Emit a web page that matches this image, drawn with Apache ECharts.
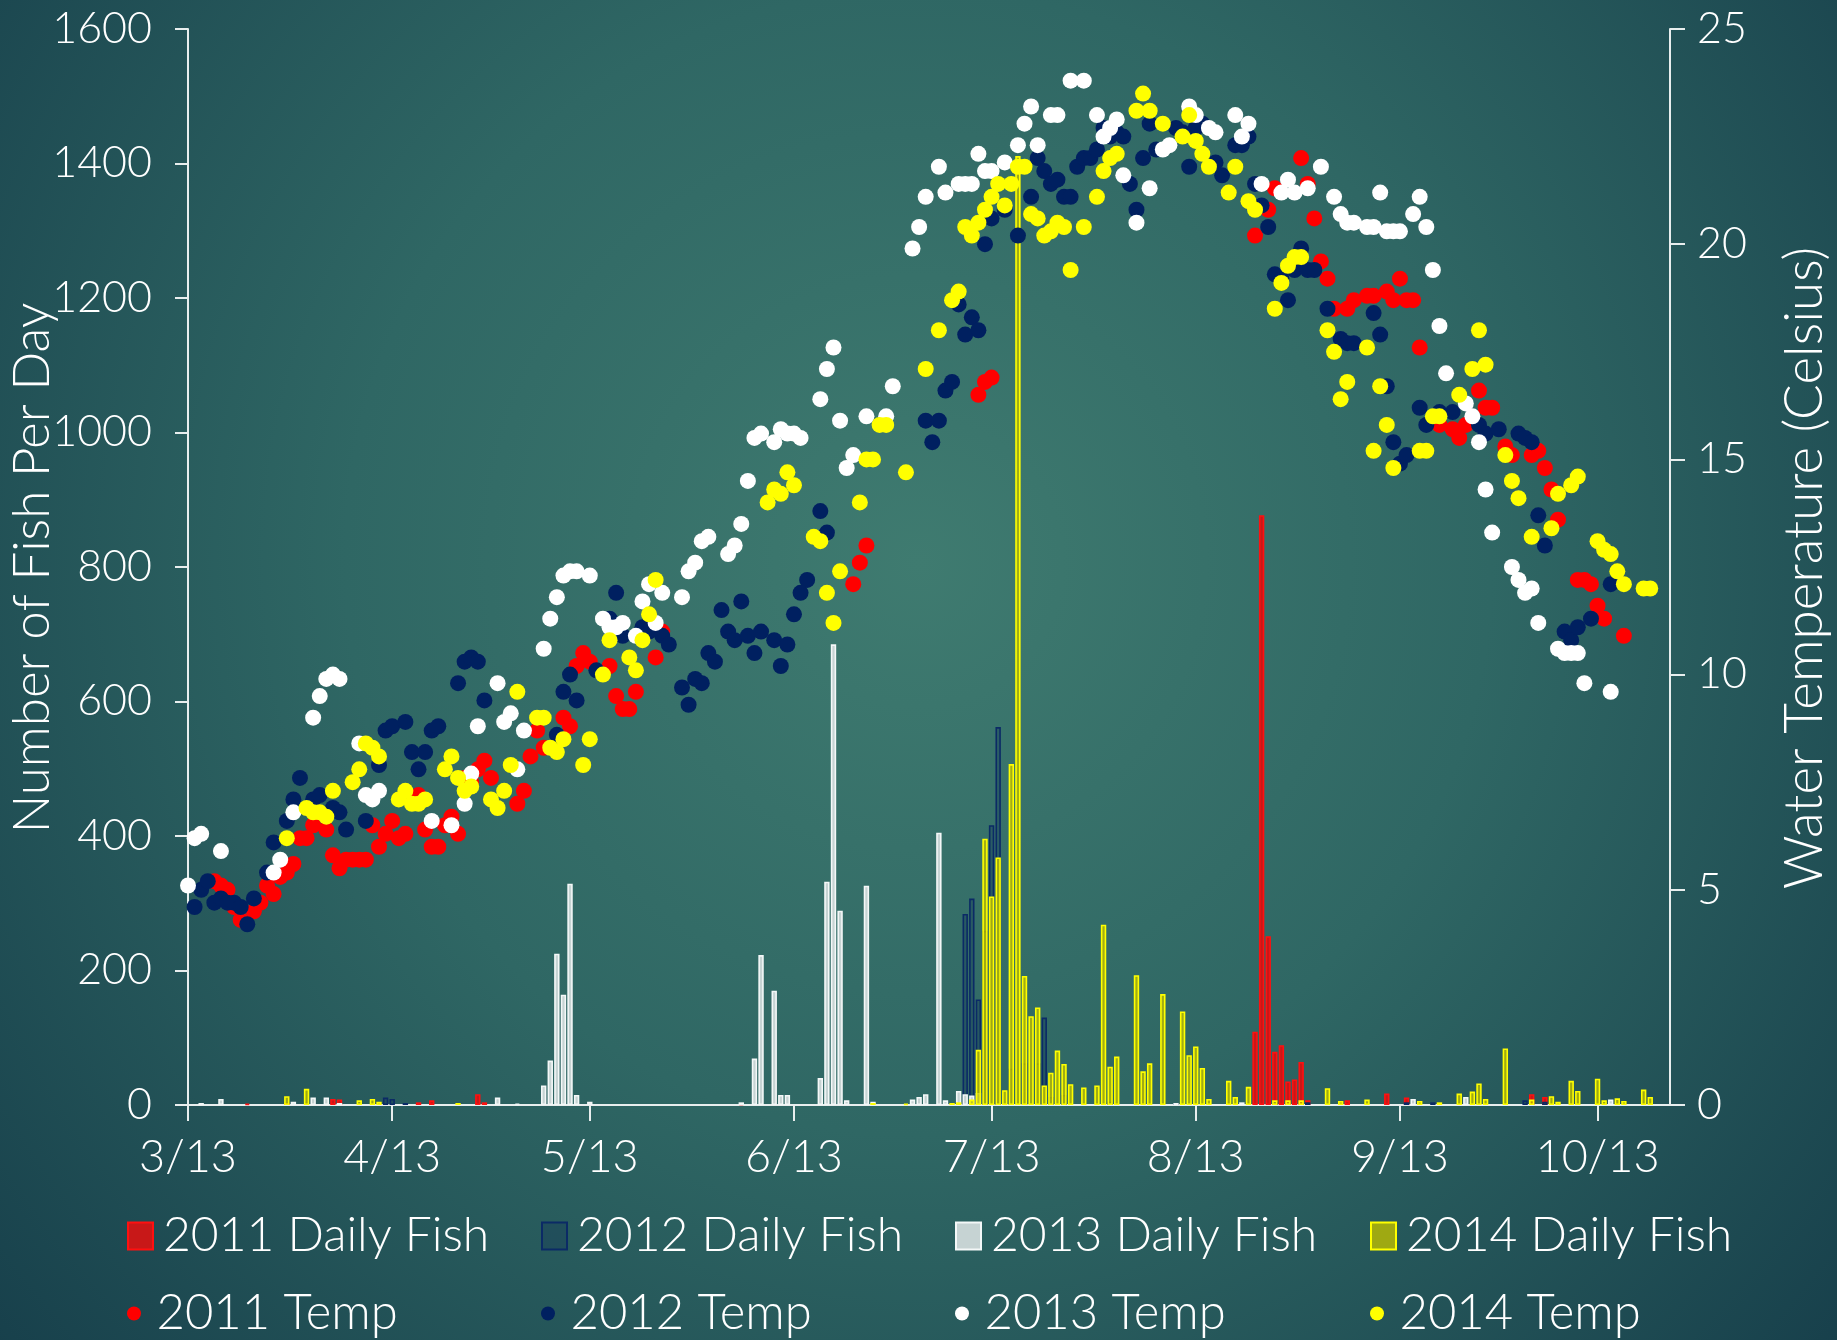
<!DOCTYPE html>
<html>
<head>
<meta charset="utf-8">
<script src="https://cdn.jsdelivr.net/npm/echarts@6/dist/echarts.min.js"></script>
<style>
html, body { margin: 0; padding: 0; background: #1f4e56; }
#chart { width: 1837px; height: 1340px; }
</style>
</head>
<body>
<div id="chart"></div>
<script>
// x axis: day number counted from 3/13
var dayTicks = [0, 31, 61, 92, 122, 153, 184, 214];
var dayLabels = ['3/13', '4/13', '5/13', '6/13', '7/13', '8/13', '9/13', '10/13'];

var fishTicks = [0, 200, 400, 600, 800, 1000, 1200, 1400, 1600];
var tempTicks = [0, 5, 10, 15, 20, 25];

// daily fish counts [day, fish]
var fish2011 = [[9,2],[15,3],[22,9],[23,8],[35,4],[37,7],[44,16],[45,4],[84,2],[162,109],[163,877],[164,251],[165,79],[166,89],[167,35],[168,38],[169,64],[170,7],[176,7],[182,17],[185,11],[204,16],[206,12]];
var fish2012 = [[30,11],[31,9],[33,3],[118,284],[119,307],[120,157],[121,259],[122,416],[123,562],[125,54],[127,62],[129,62],[130,130],[131,12],[133,15],[140,5],[150,3],[165,5],[170,4],[185,4],[189,4],[203,7],[206,5]];
var fish2013 = [[2,3],[5,9],[16,5],[19,11],[21,11],[23,3],[47,11],[50,2],[54,29],[55,66],[56,225],[57,164],[58,329],[59,15],[61,5],[84,4],[86,69],[87,223],[89,170],[90,15],[91,15],[96,40],[97,332],[98,685],[99,289],[100,7],[103,326],[104,5],[110,8],[111,12],[112,16],[114,405],[115,7],[117,21],[118,16],[119,14],[120,18],[150,3],[160,4],[186,9],[194,12],[216,8]];
var fish2014 = [[15,13],[18,24],[26,7],[28,9],[29,5],[41,3],[104,3],[109,2],[116,3],[117,4],[119,8],[120,82],[121,396],[122,310],[123,368],[124,22],[125,507],[126,1411],[127,192],[128,132],[129,145],[130,29],[131,48],[132,81],[133,61],[134,31],[136,26],[138,29],[139,268],[140,57],[141,72],[144,193],[145,50],[146,62],[148,165],[151,139],[152,74],[153,87],[154,55],[155,9],[158,36],[159,12],[161,27],[165,7],[167,7],[169,7],[173,25],[175,6],[179,8],[187,6],[190,4],[193,17],[195,20],[196,32],[197,9],[200,84],[204,8],[207,13],[208,5],[210,36],[211,21],[214,39],[215,7],[217,10],[218,6],[221,23],[222,12]];

// water temperature [day, celsius]
var temp2011 = [[4,5.2],[5,5.1],[6,5.0],[7,4.6],[8,4.3],[10,4.5],[11,4.7],[12,5.1],[13,4.9],[14,5.3],[15,5.4],[16,5.6],[17,6.2],[18,6.2],[19,6.5],[21,6.4],[22,5.8],[23,5.5],[24,5.7],[25,5.7],[26,5.7],[27,5.7],[28,6.5],[29,6.0],[30,6.3],[31,6.6],[32,6.2],[33,6.3],[35,7.2],[36,6.4],[37,6.0],[38,6.0],[39,6.5],[40,6.7],[41,6.3],[42,7.6],[43,7.5],[44,7.8],[45,8.0],[46,7.6],[50,7.0],[51,7.3],[52,8.1],[53,8.7],[54,8.3],[57,9.0],[58,8.8],[59,10.2],[60,10.5],[61,10.3],[64,10.2],[65,9.5],[66,9.2],[67,9.2],[68,9.6],[71,10.4],[72,11.0],
  [101,12.1],[102,12.6],[103,13.0],[120,16.5],[121,16.8],[122,16.9],
  [162,20.2],[164,20.8],[165,21.3],[169,22.0],[170,21.4],[171,20.6],[172,19.6],[173,19.2],[174,18.5],[176,18.5],[177,18.7],[179,18.8],[180,18.8],[182,18.9],[183,18.7],[184,19.2],[185,18.7],[186,18.7],[187,17.6],[190,15.8],[192,15.7],[193,15.5],[194,15.8],[196,16.6],[197,16.2],[198,16.2],[200,15.3],[201,15.1],[204,15.1],[205,15.2],[206,14.8],[207,14.3],[208,13.6],[211,12.2],[212,12.2],[213,12.1],[214,11.6],[215,11.3],[218,10.9]];
var temp2012 = [[1,4.6],[2,5.0],[3,5.2],[4,4.7],[5,4.8],[6,4.7],[7,4.7],[8,4.6],[9,4.2],[10,4.8],[12,5.4],[13,6.1],[15,6.6],[16,7.1],[17,7.6],[19,7.1],[20,7.2],[22,6.9],[23,6.8],[24,6.4],[27,6.6],[29,7.9],[30,8.7],[31,8.8],[33,8.9],[34,8.2],[35,7.8],[36,8.2],[37,8.7],[38,8.8],[41,9.8],[42,10.3],[43,10.4],[44,10.3],[45,9.4],[56,8.6],[57,9.6],[58,10.0],[59,9.4],[62,10.1],[64,11.3],[65,11.9],[66,10.9],[69,11.1],[70,11.0],[72,10.9],[73,10.7],[75,9.7],[76,9.3],[77,9.9],[78,9.8],[79,10.5],[80,10.3],[81,11.5],[82,11.0],[83,10.8],[84,11.7],[85,10.9],[86,10.5],[87,11.0],[89,10.8],[90,10.2],[91,10.7],[92,11.4],[93,11.9],[94,12.2],[96,13.8],[97,13.3],
  [112,15.9],[113,15.4],[114,15.9],[115,16.6],[116,16.8],[117,18.6],[118,17.9],[119,18.3],[120,18.0],[121,20.0],[122,20.6],[124,20.8],[126,20.2],[128,21.1],[129,22.0],[130,21.7],[131,21.4],[132,21.5],[133,21.1],[134,21.1],[135,21.8],[136,22.0],[137,22.0],[138,22.2],[139,22.7],[140,22.5],[141,22.6],[142,22.5],[143,21.4],[144,20.8],[145,22.0],[146,22.8],[147,22.2],[150,22.7],[151,22.6],[152,21.8],[153,22.7],[154,22.8],[156,21.9],[157,21.6],[159,22.3],[160,22.3],[161,22.5],[162,21.4],[163,20.9],[164,20.4],[165,19.3],[166,19.2],[167,18.7],[168,19.4],[169,19.9],[170,19.4],[171,19.4],[173,18.5],[175,17.8],[176,17.7],[177,17.7],[180,18.4],[181,17.9],[182,16.7],[183,15.4],[184,14.9],[185,15.1],[187,16.2],[188,15.8],[190,16.1],[192,16.1],[196,15.8],[197,15.6],[199,15.7],[202,15.6],[203,15.5],[204,15.4],[205,13.7],[206,13.0],[209,11.0],[210,10.8],[211,11.1],[213,11.3],[216,12.1]];
var temp2013 = [[0,5.1],[1,6.2],[2,6.3],[5,5.9],[13,5.4],[14,5.7],[16,6.8],[19,9.0],[20,9.5],[21,9.9],[22,10.0],[23,9.9],[26,8.4],[27,7.2],[28,7.1],[29,7.3],[37,6.6],[40,6.5],[42,7.0],[43,7.7],[44,8.8],[47,9.8],[48,8.9],[49,9.1],[50,7.8],[51,8.7],[54,10.6],[55,11.3],[56,11.8],[57,12.3],[58,12.4],[59,12.4],[61,12.3],[63,11.3],[64,11.1],[65,11.1],[66,11.2],[68,10.9],[69,11.7],[70,12.1],[71,11.2],[72,11.9],[75,11.8],[76,12.4],[77,12.6],[78,13.1],[79,13.2],[82,12.8],[83,13.0],[84,13.5],[85,14.5],[86,15.5],[87,15.6],[89,15.4],[90,15.7],[91,15.6],[92,15.6],[93,15.5],[96,16.4],[97,17.1],[98,17.6],[99,15.9],[100,14.8],[101,15.1],[103,16.0],[106,16.0],[107,16.7],
  [110,19.9],[111,20.4],[112,21.1],[114,21.8],[115,21.2],[117,21.4],[118,21.4],[119,21.4],[120,22.1],[121,21.7],[122,21.7],[124,21.9],[126,22.3],[127,22.8],[128,23.2],[129,22.3],[131,23.0],[132,23.0],[134,23.8],[136,23.8],[138,23.0],[139,22.5],[140,22.7],[141,22.9],[142,21.6],[144,20.5],[146,21.3],[148,22.2],[149,22.3],[152,23.2],[153,23.0],[155,22.7],[156,22.6],[159,23.0],[160,22.5],[161,22.8],[163,21.4],[166,21.2],[167,21.5],[168,21.2],[170,21.3],[172,21.8],[174,21.1],[175,20.7],[176,20.5],[177,20.5],[179,20.4],[180,20.4],[181,21.2],[182,20.3],[183,20.3],[184,20.3],[186,20.7],[187,21.1],[188,20.4],[189,19.4],[190,18.1],[191,17.0],[194,16.3],[195,16.0],[196,15.4],[197,14.3],[198,13.3],[201,12.5],[202,12.2],[203,11.9],[204,12.0],[205,11.2],[208,10.6],[209,10.5],[210,10.5],[211,10.5],[212,9.8],[216,9.6]];
var temp2014 = [[15,6.2],[18,6.9],[19,6.8],[20,6.8],[21,6.7],[22,7.3],[25,7.5],[26,7.8],[27,8.4],[28,8.3],[29,8.1],[32,7.1],[33,7.3],[34,7.0],[35,7.0],[36,7.1],[39,7.8],[40,8.1],[41,7.6],[42,7.3],[43,7.4],[46,7.1],[47,6.9],[48,7.3],[49,7.9],[50,9.6],[53,9.0],[54,9.0],[55,8.3],[56,8.2],[57,8.5],[60,7.9],[61,8.5],[63,10.0],[64,10.8],[67,10.4],[68,10.1],[69,10.8],[70,11.4],[71,12.2],
  [88,14.0],[89,14.3],[90,14.2],[91,14.7],[92,14.4],[95,13.2],[96,13.1],[97,11.9],[98,11.2],[99,12.4],[102,14.0],[103,15.0],[104,15.0],[105,15.8],[106,15.8],[109,14.7],[112,17.1],[114,18.0],[116,18.7],[117,18.9],[118,20.4],[119,20.2],[120,20.5],[121,20.8],[122,21.1],[123,21.4],[124,20.9],[125,21.4],[126,21.8],[127,21.8],[128,20.7],[129,20.6],[130,20.2],[131,20.3],[132,20.5],[133,20.4],[134,19.4],[136,20.4],[138,21.1],[139,21.7],[140,22.0],[141,22.1],[144,23.1],[145,23.5],[146,23.1],[148,22.8],[151,22.5],[152,23.0],[153,22.4],[154,22.1],[155,21.8],[158,21.2],[159,21.8],[161,21.0],[162,20.8],[165,18.5],[166,19.1],[167,19.5],[168,19.7],[169,19.7],[173,18.0],[174,17.5],[175,16.4],[176,16.8],[179,17.6],[180,15.2],[181,16.7],[182,15.8],[183,14.8],[187,15.2],[188,15.2],[189,16.0],[190,16.0],[193,16.5],[195,17.1],[196,18.0],[197,17.2],[200,15.1],[201,14.5],[202,14.1],[204,13.2],[207,13.4],[208,14.2],[210,14.4],[211,14.6],[214,13.1],[215,12.9],[216,12.8],[217,12.4],[218,12.1],[221,12.0],[222,12.0]];

var fontName = 'Lato';
var axisColor = '#e8eeee';

var myChart = echarts.init(document.getElementById('chart'));

function barSeries(name, data, fill, border) {
    return {
        name: name,
        type: 'bar',
        yAxisIndex: 0,
        data: data,
        barWidth: 5.4,
        barGap: '-100%',
        itemStyle: {
            color: fill,
            borderColor: border,
            borderWidth: 1.6
        }
    };
}

function tempSeries(name, data, color) {
    return {
        name: name,
        type: 'scatter',
        yAxisIndex: 1,
        data: data,
        symbol: 'circle',
        symbolSize: 16,
        itemStyle: { color: color, opacity: 1 }
    };
}

// one legend box per entry so the columns line up like the original
var legendX = [122, 536, 950, 1365];
var barNames = ['2011 Daily Fish', '2012 Daily Fish', '2013 Daily Fish', '2014 Daily Fish'];
var tempNames = ['2011 Temp', '2012 Temp', '2013 Temp', '2014 Temp'];
var legends = [];
for (var i = 0; i < 4; i++) {
    legends.push({
        data: [{ name: barNames[i], icon: 'rect' }],
        left: legendX[i], top: 1207,
        itemWidth: 25, itemHeight: 27,
        selectedMode: false,
        textStyle: { color: '#fff', fontSize: 48, fontFamily: fontName, fontWeight: 300, padding: [0, 0, 0, 5] }
    });
    legends.push({
        data: [{ name: tempNames[i], icon: 'circle' }],
        left: legendX[i], top: 1284,
        itemWidth: 25, itemHeight: 14,
        selectedMode: false,
        textStyle: { color: '#fff', fontSize: 49, fontFamily: fontName, fontWeight: 300, padding: [0, 0, 0, 5] }
    });
}

option = {
    backgroundColor: {
        type: 'radial', x: 0.5, y: 0.42, r: 0.95,
        colorStops: [
            { offset: 0, color: '#3f7b70' },
            { offset: 0.45, color: '#2f6764' },
            { offset: 1, color: '#153c49' }
        ]
    },
    animation: false,
    grid: { left: 188, right: 167, top: 29, bottom: 235 },
    legend: legends,
    xAxis: {
        type: 'value',
        min: 0,
        max: 225,
        splitLine: { show: false },
        axisLine: { lineStyle: { color: axisColor, width: 2 } },
        axisTick: { customValues: dayTicks, length: 16, lineStyle: { color: axisColor, width: 2 } },
        axisLabel: {
            customValues: dayTicks,
            formatter: function (v) { return dayLabels[dayTicks.indexOf(v)]; },
            color: '#fff', fontSize: 45, fontFamily: fontName, fontWeight: 300, margin: 30
        }
    },
    yAxis: [{
        type: 'value',
        min: 0, max: 1600, interval: 200,
        splitLine: { show: false },
        axisLine: { show: true, lineStyle: { color: axisColor, width: 2 } },
        axisTick: { show: true, length: 13, lineStyle: { color: axisColor, width: 2 } },
        axisLabel: {
            formatter: function (v) { return String(v); },
            color: '#fff', fontSize: 43, fontFamily: fontName, fontWeight: 300, margin: 36
        }
    }, {
        type: 'value',
        position: 'right',
        min: 0, max: 25, interval: 5,
        splitLine: { show: false },
        axisLine: { show: true, lineStyle: { color: axisColor, width: 2 } },
        axisTick: { show: true, length: 15, lineStyle: { color: axisColor, width: 2 } },
        axisLabel: { color: '#fff', fontSize: 43, fontFamily: fontName, fontWeight: 300, margin: 27 }
    }],
    graphic: [{
        type: 'text', x: 33, y: 568, rotation: Math.PI / 2,
        style: { text: 'Number of Fish Per Day', fill: '#fff', fontSize: 51, fontFamily: fontName, fontWeight: 300, align: 'center', verticalAlign: 'middle' }
    }, {
        type: 'text', x: 1805, y: 568, rotation: Math.PI / 2,
        style: { text: 'Water Temperature (Celsius)', fill: '#fff', fontSize: 53, fontFamily: fontName, fontWeight: 300, align: 'center', verticalAlign: 'middle' }
    }],
    series: [
        barSeries('2011 Daily Fish', fish2011, '#c81818', '#ff1010'),
        barSeries('2012 Daily Fish', fish2012, 'rgba(20,55,90,0.35)', '#0b2a66'),
        barSeries('2013 Daily Fish', fish2013, '#c6d3d3', '#f4f8f8'),
        barSeries('2014 Daily Fish', fish2014, 'rgba(190,190,0,0.8)', '#ffff00'),
        tempSeries('2011 Temp', temp2011, '#ff0000'),
        tempSeries('2012 Temp', temp2012, '#002060'),
        tempSeries('2013 Temp', temp2013, '#ffffff'),
        tempSeries('2014 Temp', temp2014, '#ffff00')
    ]
};
myChart.setOption(option);
</script>
</body>
</html>
